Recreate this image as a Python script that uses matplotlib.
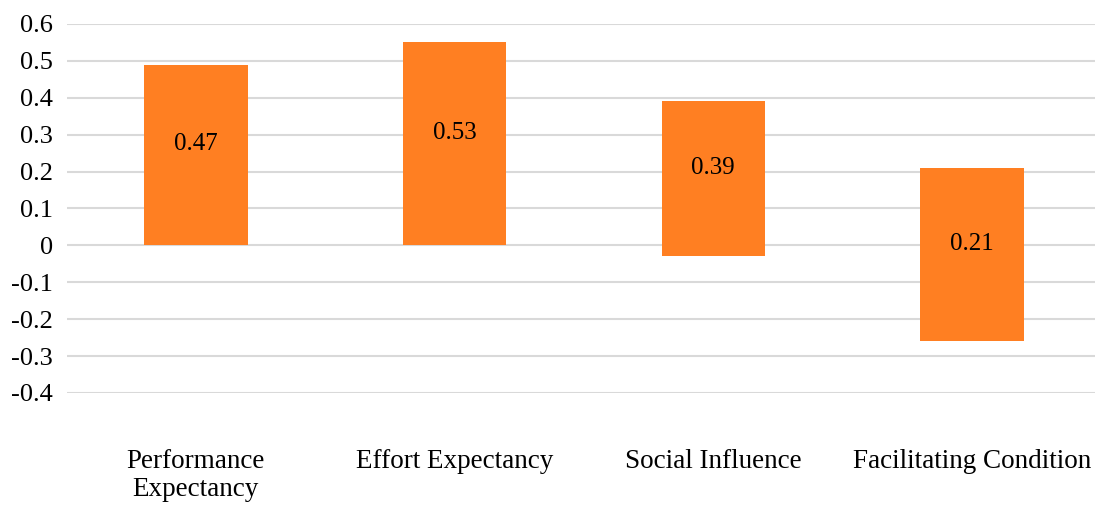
import numpy as np
import matplotlib.pyplot as plt

# floating bars: each factor runs from low to high, labelled with its value
categories = ['Performance\nExpectancy', 'Effort Expectancy', 'Social Influence', 'Facilitating Condition']
lows = [0.0, 0.0, -0.03, -0.26]
highs = [0.49, 0.55, 0.39, 0.21]
labels = ['0.47', '0.53', '0.39', '0.21']
yticks = [0.6, 0.5, 0.4, 0.3, 0.2, 0.1, 0, -0.1, -0.2, -0.3, -0.4]

plt.rcParams['font.family'] = ['Liberation Serif', 'DejaVu Serif']

fig = plt.figure(figsize=(10.95, 5.08), dpi=100)
ax = fig.add_axes([0.0608, 0.2264, 0.945, 0.7264])

x = np.arange(len(categories))
lows = np.array(lows)
highs = np.array(highs)
ax.bar(x, highs - lows, bottom=lows, width=0.4, color='#FF7F22', zorder=3)

for xi, lo, hi, lab in zip(x, lows, highs, labels):
    ax.text(xi, (lo + hi) / 2 + 0.03, lab, ha='center', va='center', fontsize=18, color='black', zorder=4)

ax.set_ylim(-0.4, 0.6)
ax.set_xlim(-0.5, 3.5)
ax.set_yticks(yticks)
ax.set_yticklabels([str(t) for t in yticks], fontsize=19)
ax.yaxis.grid(True, color='#d9d9d9', linewidth=1.5, zorder=0)
ax.set_xticks(x)
ax.set_xticklabels(categories, fontsize=19.5, linespacing=1.2)
ax.tick_params(axis='both', length=0)
ax.tick_params(axis='x', pad=40)
ax.tick_params(axis='y', pad=10)
for s in ax.spines.values():
    s.set_visible(False)

fig.savefig('out.png', dpi=100)
